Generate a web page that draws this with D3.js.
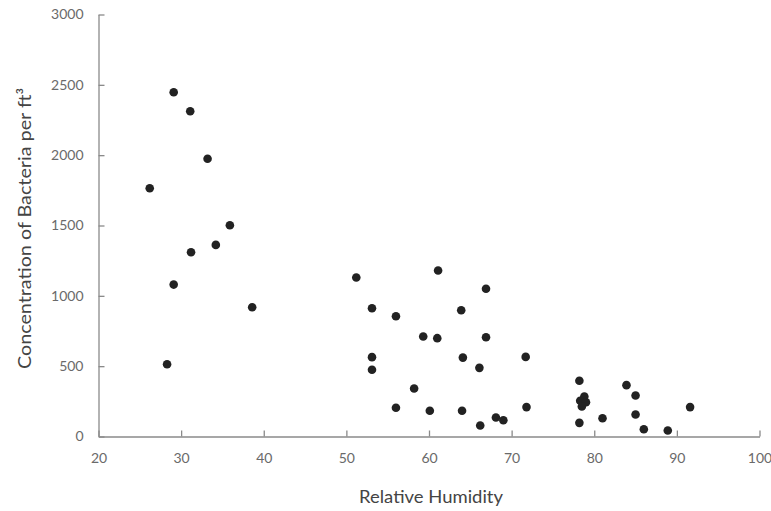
<!DOCTYPE html>
<html><head><meta charset="utf-8">
<script src="https://cdn.jsdelivr.net/npm/d3@7"></script>
<style>body{margin:0;background:#fff}svg text{font-family:Lato,"DejaVu Sans",sans-serif}</style>
</head><body><svg id="c" width="771" height="511"></svg>
<script>
const humidity = [26.2,29.1,31.1,33.2,35.9,34.2,31.2,29.1,38.6,28.3,
  51.2,61.1,66.9,53.1,56.0,63.9,59.3,61.0,66.9,53.1,64.1,71.7,53.1,66.1,58.2,56.0,60.1,64.0,66.2,68.1,69.0,71.8,
  78.2,78.2,78.8,78.3,79.0,78.5,81.0,83.9,85.0,85.0,86.0,88.9,91.6];
const bacteria = [1765,2447,2312,1975,1502,1362,1310,1080,919,514,
  1130,1180,1050,912,855,898,711,699,706,564,561,566,474,488,341,204,183,183,78,135,116,209,
  396,97,284,254,244,213,130,365,292,156,52,43,209];
const xTicks = [20,30,40,50,60,70,80,90,100];
const yTicks = [0,500,1000,1500,2000,2500,3000];
const xTitle = "Relative Humidity";
const yTitle = "Concentration of Bacteria per ft³";

const svg = d3.select("#c");
const x = d3.scaleLinear().domain([20,100]).range([98.5,759.5]);
const y = d3.scaleLinear().domain([0,3000]).range([436.5,14.5]);

const gx = svg.append("g").attr("transform","translate(0,436.5)")
  .call(d3.axisBottom(x).tickValues(xTicks).tickFormat(d3.format("d")).tickSizeInner(-6).tickSizeOuter(0).tickPadding(17));
const gy = svg.append("g").attr("transform","translate(98.5,0)")
  .call(d3.axisLeft(y).tickValues(yTicks).tickFormat(d3.format("d")).tickSizeInner(-6).tickSizeOuter(0).tickPadding(15));
[gx,gy].forEach(g=>{
  g.select(".domain").attr("stroke","#8a8a8a").attr("stroke-width",1.3);
  g.selectAll(".tick line").attr("stroke","#8a8a8a").attr("stroke-width",1.3);
  g.selectAll(".tick text").attr("fill","#6a6a6a").style("font-size","14px");
});

svg.append("g").selectAll("circle").data(humidity).join("circle")
  .attr("cx",(d,i)=>x(d)).attr("cy",(d,i)=>y(bacteria[i])).attr("r",4.3).attr("fill","#222");

svg.append("text").attr("x",431).attr("y",503).attr("text-anchor","middle")
  .attr("fill","#444").style("font-size","18px")
  .attr("textLength",144).attr("lengthAdjust","spacingAndGlyphs").text(xTitle);
svg.append("text").attr("transform","translate(31,228.5) rotate(-90)").attr("text-anchor","middle")
  .attr("fill","#444").style("font-size","18px")
  .attr("textLength",281).attr("lengthAdjust","spacingAndGlyphs").text(yTitle);
</script></body></html>
